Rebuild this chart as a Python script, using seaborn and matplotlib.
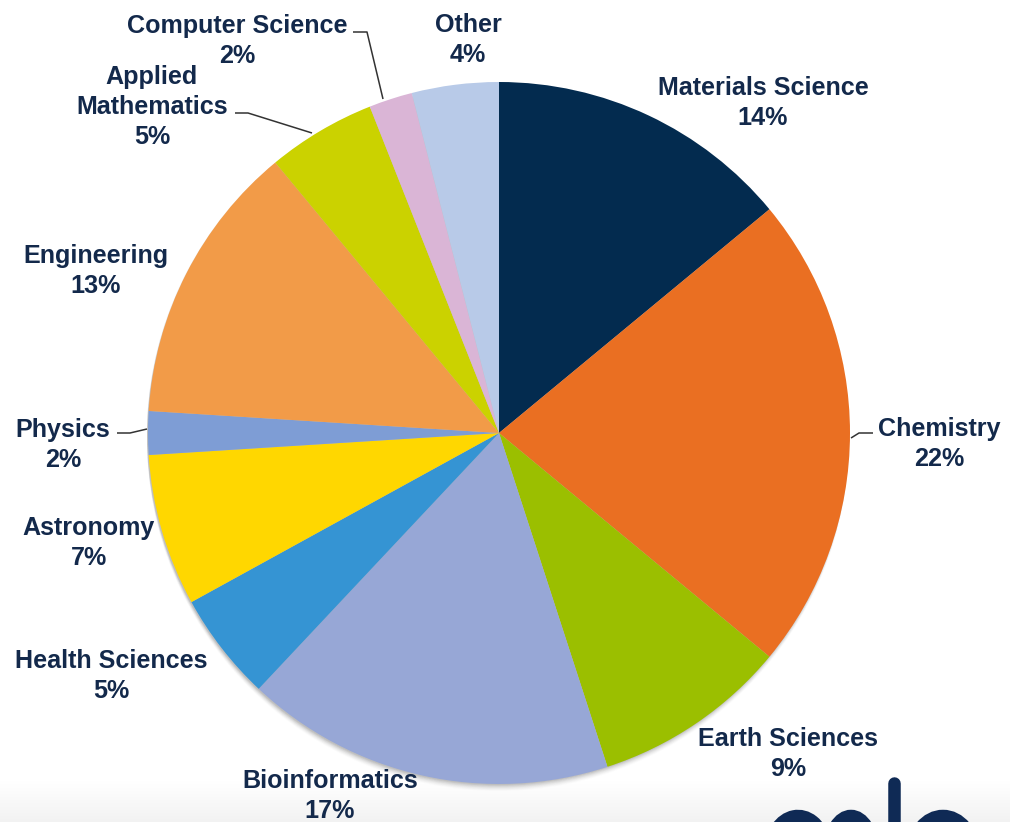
import numpy as np
import matplotlib
matplotlib.use("Agg")
import matplotlib.pyplot as plt
from matplotlib.patches import Circle, Arc
import seaborn as sns

# Share of allocation by research field (percent), clockwise from 12 o'clock
fields = ["Materials Science", "Chemistry", "Earth Sciences", "Bioinformatics",
          "Health Sciences", "Astronomy", "Physics", "Engineering",
          "Applied\nMathematics", "Computer Science", "Other"]
shares = [14, 22, 9, 17, 5, 7, 2, 13, 5, 2, 4]
slice_colors = ["#032B4F", "#EA6F22", "#9BBF00", "#97A7D6", "#3594D3", "#FFD700",
                "#7E9DD5", "#F29B48", "#CBD200", "#DAB5D6", "#B8CAE8"]

sns.set_theme(style="white")
plt.rcParams["font.family"] = ["Liberation Sans", "DejaVu Sans"]

W, H = 1010, 822
TEXT = "#13294B"


def y_(py):
    """Convert a top-down pixel row into the axes' bottom-up coordinate."""
    return H - py


fig = plt.figure(figsize=(W / 100, H / 100), dpi=100)
ax = fig.add_axes([0, 0, 1, 1])

cx, cy, R = 499, y_(433), 351

# faint backdrop shading along the bottom edge
grad = np.linspace(1.0, 0.95, 64)[:, None] * np.ones((1, 8))
ax.imshow(np.dstack([grad, grad, grad]), extent=[0, W, 0, 40],
          origin="upper", aspect="auto", zorder=0, interpolation="bicubic")

# soft drop shadow under the pie
for k, a in zip(range(1, 8), np.linspace(0.10, 0.02, 7)):
    ax.add_patch(Circle((cx - 1, cy - k), R, facecolor="#555555",
                        edgecolor="none", alpha=a, zorder=1))

palette = sns.color_palette(slice_colors)
wedges, _ = ax.pie(shares, colors=palette, startangle=90, counterclock=False,
                   center=(cx, cy), radius=R,
                   wedgeprops=dict(linewidth=0))
for w in wedges:
    w.set_zorder(2)

# label block centres (pixel positions)
label_pos = [(763, 103), (939, 444), (788, 754), (330, 796), (111, 676),
             (89, 543), (63, 445), (96, 271), (152, 107), (237, 41), (468, 40)]
for name, val, (px, py) in zip(fields, shares, label_pos):
    ax.text(px, y_(py), f"{name}\n{val}%", ha="center", va="center",
            fontsize=18.1, fontweight="bold", color=TEXT, linespacing=1.34,
            zorder=5)

# leader lines for the small / crowded slices
leaders = [
    [(353, 32), (367, 32), (383, 99)],      # Computer Science
    [(235, 113), (248, 113), (312, 133)],   # Applied Mathematics
    [(117, 433), (130, 433), (147, 429)],   # Physics
    [(873, 433), (859, 433), (851, 438)],   # Chemistry
]
for pts in leaders:
    xs = [p[0] for p in pts]
    ys = [y_(p[1]) for p in pts]
    ax.plot(xs, ys, color="#333333", lw=1.1, zorder=4, solid_capstyle="butt")

# partial logo in the bottom-right corner
NAVY = "#0F2A55"
ax.add_patch(Arc((798, y_(852)), 56, 72, theta1=22, theta2=180,
                 color=NAVY, lw=9, zorder=3))
ax.add_patch(Arc((851, y_(852)), 44, 72, theta1=0, theta2=180,
                 color=NAVY, lw=9, zorder=3))
ax.plot([894, 894], [y_(783), y_(830)], color=NAVY, lw=9,
        solid_capstyle="round", zorder=3)
ax.add_patch(Arc((943, y_(854)), 62, 76, theta1=0, theta2=180,
                 color=NAVY, lw=9, zorder=3))

ax.set_xlim(0, W)
ax.set_ylim(0, H)
ax.set_aspect("auto")
ax.axis("off")

fig.savefig("out.png", dpi=100, facecolor="white")
